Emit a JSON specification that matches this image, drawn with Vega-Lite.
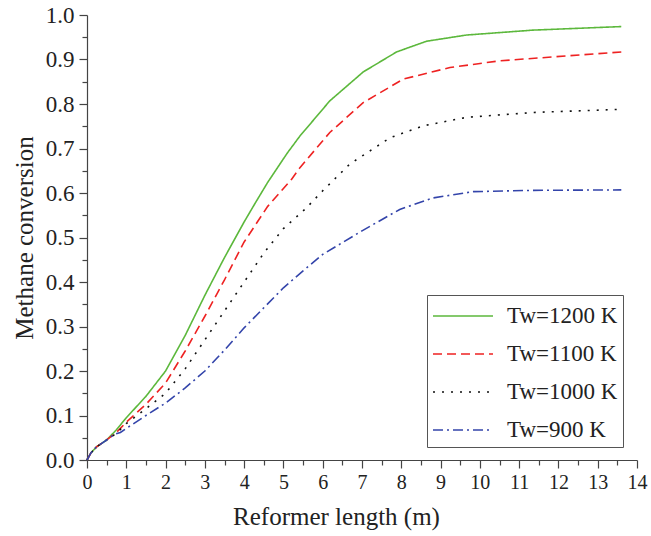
{
  "$schema": "https://vega.github.io/schema/vega-lite/v6.json",
  "width": 550,
  "height": 445,
  "autosize": {"type": "none"},
  "padding": {"left": 87, "top": 15, "right": 14, "bottom": 76},
  "background": "white",
  "config": {
    "view": {"stroke": null},
    "font": "Liberation Serif"
  },
  "data": {
    "values": [
      {"x": 0, "y": 0, "s": "Tw=1200 K"},
      {"x": 0.1, "y": 0.016, "s": "Tw=1200 K"},
      {"x": 0.25, "y": 0.03, "s": "Tw=1200 K"},
      {"x": 0.5, "y": 0.045, "s": "Tw=1200 K"},
      {"x": 0.75, "y": 0.068, "s": "Tw=1200 K"},
      {"x": 1, "y": 0.095, "s": "Tw=1200 K"},
      {"x": 1.5, "y": 0.143, "s": "Tw=1200 K"},
      {"x": 2, "y": 0.2, "s": "Tw=1200 K"},
      {"x": 2.5, "y": 0.28, "s": "Tw=1200 K"},
      {"x": 3, "y": 0.37, "s": "Tw=1200 K"},
      {"x": 3.5, "y": 0.455, "s": "Tw=1200 K"},
      {"x": 4, "y": 0.535, "s": "Tw=1200 K"},
      {"x": 4.3, "y": 0.58, "s": "Tw=1200 K"},
      {"x": 4.6, "y": 0.624, "s": "Tw=1200 K"},
      {"x": 5.1, "y": 0.69, "s": "Tw=1200 K"},
      {"x": 5.42, "y": 0.728, "s": "Tw=1200 K"},
      {"x": 6.18, "y": 0.807, "s": "Tw=1200 K"},
      {"x": 7.03, "y": 0.872, "s": "Tw=1200 K"},
      {"x": 7.88, "y": 0.917, "s": "Tw=1200 K"},
      {"x": 8.64, "y": 0.941, "s": "Tw=1200 K"},
      {"x": 9.66, "y": 0.955, "s": "Tw=1200 K"},
      {"x": 11.35, "y": 0.966, "s": "Tw=1200 K"},
      {"x": 13.6, "y": 0.974, "s": "Tw=1200 K"},

      {"x": 0, "y": 0, "s": "Tw=1100 K"},
      {"x": 0.1, "y": 0.016, "s": "Tw=1100 K"},
      {"x": 0.25, "y": 0.03, "s": "Tw=1100 K"},
      {"x": 0.5, "y": 0.045, "s": "Tw=1100 K"},
      {"x": 0.75, "y": 0.062, "s": "Tw=1100 K"},
      {"x": 1, "y": 0.085, "s": "Tw=1100 K"},
      {"x": 1.5, "y": 0.125, "s": "Tw=1100 K"},
      {"x": 2, "y": 0.173, "s": "Tw=1100 K"},
      {"x": 2.5, "y": 0.245, "s": "Tw=1100 K"},
      {"x": 3, "y": 0.323, "s": "Tw=1100 K"},
      {"x": 3.5, "y": 0.405, "s": "Tw=1100 K"},
      {"x": 4, "y": 0.49, "s": "Tw=1100 K"},
      {"x": 4.6, "y": 0.57, "s": "Tw=1100 K"},
      {"x": 5.2, "y": 0.63, "s": "Tw=1100 K"},
      {"x": 5.42, "y": 0.657, "s": "Tw=1100 K"},
      {"x": 6.18, "y": 0.736, "s": "Tw=1100 K"},
      {"x": 7.03, "y": 0.803, "s": "Tw=1100 K"},
      {"x": 8.05, "y": 0.856, "s": "Tw=1100 K"},
      {"x": 9.24, "y": 0.882, "s": "Tw=1100 K"},
      {"x": 10.5, "y": 0.897, "s": "Tw=1100 K"},
      {"x": 12.2, "y": 0.908, "s": "Tw=1100 K"},
      {"x": 13.6, "y": 0.917, "s": "Tw=1100 K"},

      {"x": 0, "y": 0, "s": "Tw=1000 K"},
      {"x": 0.1, "y": 0.016, "s": "Tw=1000 K"},
      {"x": 0.25, "y": 0.03, "s": "Tw=1000 K"},
      {"x": 0.5, "y": 0.045, "s": "Tw=1000 K"},
      {"x": 0.75, "y": 0.06, "s": "Tw=1000 K"},
      {"x": 1, "y": 0.082, "s": "Tw=1000 K"},
      {"x": 1.5, "y": 0.115, "s": "Tw=1000 K"},
      {"x": 2, "y": 0.15, "s": "Tw=1000 K"},
      {"x": 2.5, "y": 0.205, "s": "Tw=1000 K"},
      {"x": 3, "y": 0.27, "s": "Tw=1000 K"},
      {"x": 3.5, "y": 0.335, "s": "Tw=1000 K"},
      {"x": 4, "y": 0.4, "s": "Tw=1000 K"},
      {"x": 4.5, "y": 0.465, "s": "Tw=1000 K"},
      {"x": 5, "y": 0.52, "s": "Tw=1000 K"},
      {"x": 5.59, "y": 0.567, "s": "Tw=1000 K"},
      {"x": 6, "y": 0.605, "s": "Tw=1000 K"},
      {"x": 6.69, "y": 0.665, "s": "Tw=1000 K"},
      {"x": 7.71, "y": 0.724, "s": "Tw=1000 K"},
      {"x": 8.56, "y": 0.751, "s": "Tw=1000 K"},
      {"x": 9.66, "y": 0.77, "s": "Tw=1000 K"},
      {"x": 11.36, "y": 0.781, "s": "Tw=1000 K"},
      {"x": 13.6, "y": 0.788, "s": "Tw=1000 K"},

      {"x": 0, "y": 0, "s": "Tw=900 K"},
      {"x": 0.1, "y": 0.016, "s": "Tw=900 K"},
      {"x": 0.25, "y": 0.03, "s": "Tw=900 K"},
      {"x": 0.5, "y": 0.045, "s": "Tw=900 K"},
      {"x": 0.7, "y": 0.058, "s": "Tw=900 K"},
      {"x": 0.85, "y": 0.062, "s": "Tw=900 K"},
      {"x": 1, "y": 0.071, "s": "Tw=900 K"},
      {"x": 1.5, "y": 0.1, "s": "Tw=900 K"},
      {"x": 2, "y": 0.128, "s": "Tw=900 K"},
      {"x": 2.5, "y": 0.162, "s": "Tw=900 K"},
      {"x": 3, "y": 0.2, "s": "Tw=900 K"},
      {"x": 3.5, "y": 0.247, "s": "Tw=900 K"},
      {"x": 4, "y": 0.297, "s": "Tw=900 K"},
      {"x": 4.5, "y": 0.342, "s": "Tw=900 K"},
      {"x": 5, "y": 0.387, "s": "Tw=900 K"},
      {"x": 5.5, "y": 0.425, "s": "Tw=900 K"},
      {"x": 6, "y": 0.462, "s": "Tw=900 K"},
      {"x": 7, "y": 0.515, "s": "Tw=900 K"},
      {"x": 7.96, "y": 0.563, "s": "Tw=900 K"},
      {"x": 8.81, "y": 0.589, "s": "Tw=900 K"},
      {"x": 9.83, "y": 0.603, "s": "Tw=900 K"},
      {"x": 11.36, "y": 0.606, "s": "Tw=900 K"},
      {"x": 13.6, "y": 0.607, "s": "Tw=900 K"}
    ]
  },
  "mark": {"type": "line", "strokeWidth": 1.6},
  "encoding": {
    "x": {
      "field": "x",
      "type": "quantitative",
      "scale": {"domain": [0, 14], "nice": false},
      "axis": {
        "title": "Reformer length (m)",
        "titleFont": "Liberation Serif",
        "titleFontSize": 25,
        "titleFontWeight": "normal",
        "titleColor": "#222",
        "titlePadding": 12,
        "titleX": 249,
        "values": [0,0.5,1,1.5,2,2.5,3,3.5,4,4.5,5,5.5,6,6.5,7,7.5,8,8.5,9,9.5,10,10.5,11,11.5,12,12.5,13,13.5,14],
        "labelExpr": "datum.value % 1 === 0 ? format(datum.value, 'd') : ''",
        "labelFont": "Liberation Serif",
        "labelFontSize": 20,
        "labelColor": "#222",
        "labelPadding": 4,
        "labelFlush": false,
        "labelOverlap": false,
        "tickSize": {"condition": {"test": "datum.value % 1 === 0", "value": 8}, "value": 5},
        "tickColor": "#444",
        "tickWidth": 1.2,
        "domainColor": "#444",
        "domainWidth": 1.2,
        "grid": false
      }
    },
    "y": {
      "field": "y",
      "type": "quantitative",
      "scale": {"domain": [0, 1], "nice": false},
      "axis": {
        "title": "Methane conversion",
        "titleFont": "Liberation Serif",
        "titleFontSize": 25,
        "titleFontWeight": "normal",
        "titleColor": "#222",
        "titlePadding": 8,
        "values": [0,0.05,0.1,0.15,0.2,0.25,0.3,0.35,0.4,0.45,0.5,0.55,0.6,0.65,0.7,0.75,0.8,0.85,0.9,0.95,1.0],
        "labelExpr": "abs(datum.value*10 - round(datum.value*10)) < 0.001 ? format(datum.value, '.1f') : ''",
        "labelFont": "Liberation Serif",
        "labelFontSize": 23,
        "labelColor": "#222",
        "labelPadding": 5,
        "labelFlush": false,
        "labelOverlap": false,
        "tickSize": {"condition": {"test": "abs(datum.value*10 - round(datum.value*10)) < 0.001", "value": 8}, "value": 5},
        "tickColor": "#444",
        "tickWidth": 1.2,
        "domainColor": "#444",
        "domainWidth": 1.2,
        "grid": false
      }
    },
    "color": {
      "field": "s",
      "type": "nominal",
      "scale": {
        "domain": ["Tw=1200 K", "Tw=1100 K", "Tw=1000 K", "Tw=900 K"],
        "range": ["#5cb83c", "#ee2222", "#111111", "#3344aa"]
      },
      "legend": {
        "title": null,
        "orient": "none",
        "legendX": 340,
        "legendY": 280,
        "symbolType": "M-1,0H3",
        "symbolSize": 900,
        "symbolStrokeWidth": 1.6,
        "symbolFillColor": "transparent",
        "labelFont": "Liberation Serif",
        "labelFontSize": 23,
        "labelColor": "#222",
        "labelOffset": 43,
        "labelLimit": 300,
        "labelExpr": "datum.label + '\u2002\u2009'",
        "rowPadding": 10,
        "padding": 5,
        "strokeColor": "#555",
        "fillColor": "white"
      }
    },
    "strokeDash": {
      "field": "s",
      "type": "nominal",
      "scale": {
        "domain": ["Tw=1200 K", "Tw=1100 K", "Tw=1000 K", "Tw=900 K"],
        "range": [[1, 0], [9, 5], [2, 7], [10, 4, 2, 4]]
      },
      "legend": null
    }
  }
}
